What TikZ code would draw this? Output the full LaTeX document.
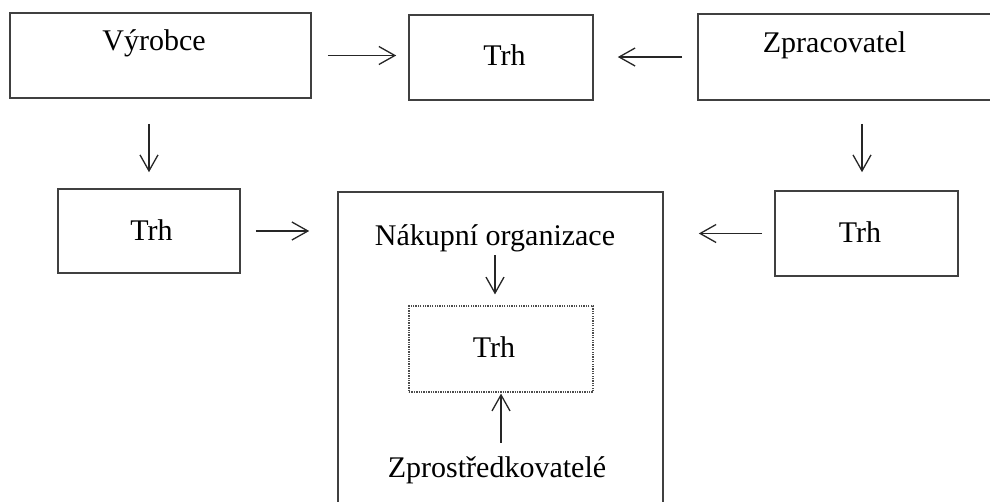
\documentclass[tikz,border=0pt]{standalone}
\usepackage{fontspec}
\setmainfont{Liberation Serif}
\usetikzlibrary{arrows.meta}
\begin{document}
\begin{tikzpicture}[x=1pt,y=-1pt,
  box/.style={draw=black!75, line width=1.6pt, rectangle, inner sep=0pt},
  dotbox/.style={draw=black!70, line width=1.2pt, dash pattern=on 1.3pt off 1.1pt, rectangle, inner sep=0pt},
  txt/.style={inner sep=0pt, anchor=base, font=\fontsize{30}{36}\selectfont},
  arr/.style={-{Straight Barb[length=16pt,width=18pt,line width=1.3pt]}, line width=1.3pt, draw=black!85},
]
\useasboundingbox (0,0) rectangle (990,501);
\clip (0,0) rectangle (990,501);
\fill[white] (0,0) rectangle (990,501);

% boxes
\node[box, minimum width=301pt, minimum height=85pt] (vyr) at (160.5,55.5) {};
\node[box, minimum width=184pt, minimum height=85pt] (trhT) at (501,57.5) {};
\node[box, minimum width=302pt, minimum height=86pt] (zpr) at (849,57) {};
\node[box, minimum width=182pt, minimum height=84pt] (trhL) at (149,231) {};
\node[box, minimum width=183pt, minimum height=85pt] (trhR) at (866.5,233.5) {};
\node[box, minimum width=325pt, minimum height=348pt] (big) at (500.5,366) {};
\node[dotbox, minimum width=184pt, minimum height=86pt] (dot) at (501,349) {};

% texts
\node[txt] (tvyr) at (154,50) {Výrobce};
\node[txt] (tzpr) at (834.5,52) {Zpracovatel};
\node[txt] (ttrhT) at (504.5,65) {Trh};
\node[txt] (ttrhL) at (151.5,240) {Trh};
\node[txt] (ttrhR) at (860,242) {Trh};
\node[txt] (nak) at (495,245) {Nákupní organizace};
\node[txt] (tdot) at (494,357) {Trh};
\node[txt] (zpro) at (497,477) {Zprostředkovatelé};

% connectors
\draw[arr, shorten <=16pt, shorten >=12pt] (vyr.east) -- (vyr.east -| trhT.west);
\draw[arr, shorten <=15pt, shorten >=24pt] (zpr.west) -- (zpr.west -| trhT.east);
\draw[arr, shorten <=25pt, shorten >=16pt] (vyr.south -| trhL.north) -- (trhL.north);
\draw[arr, shorten <=23pt, shorten >=18pt] ([xshift=-4.5pt]zpr.south -| trhR.north) -- ([xshift=-4.5pt]trhR.north);
\draw[arr, shorten <=15pt, shorten >=28pt] (trhL.east) -- (trhL.east -| big.west);
\draw[arr, shorten <=12pt, shorten >=35pt] (trhR.west) -- (trhR.west -| big.east);
\draw[arr, shorten <=3.5pt, shorten >=11pt] (nak.south) -- (nak.south |- dot.north);
\draw[arr, shorten <=13pt, shorten >=1pt] (zpro.north -| dot.south) -- (dot.south);
\end{tikzpicture}
\end{document}
